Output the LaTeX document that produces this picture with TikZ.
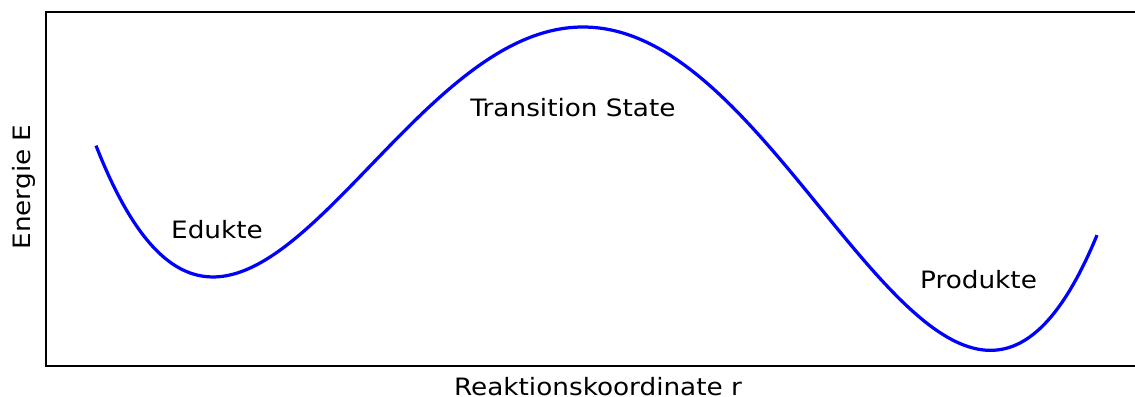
\documentclass[tikz,border=0pt]{standalone}
\usepackage{fontspec}
\setmainfont{DejaVu Sans}[FakeStretch=1.1]
\usetikzlibrary{positioning}
\tikzset{
  rkaxis/.style={draw=black, line width=1.4pt},
  rkcurve/.style={draw=blue, line width=2.3pt},
  rklabel/.style={font=\fontsize{17}{20}\selectfont, inner sep=0pt, anchor=base}
}

\begin{document}
\begin{tikzpicture}[x=0.025cm, y=-0.025cm,
  declare function={rku(\t)=(\t-583)/100;
    rkf(\t)=0.25*rku(\t)*rku(\t)*rku(\t)*rku(\t)-0.125*rku(\t)*rku(\t)*rku(\t)-7.53875*rku(\t)*rku(\t);}]
  \useasboundingbox (0,0) rectangle (1135,396);
  \clip (0,0) rectangle (1135,396);
  % frame of the plot
  \draw[rkaxis] (46,12) rectangle (1148,366);
  % energy profile
  \draw[rkcurve] plot[domain=96:1097, samples=250, smooth] (\x, {27-4.997*rkf(\x)});
  % labels
  \node[rklabel] (edukte) at (217,238.5) {Edukte};
  \node[rklabel] (ts) at (573,116.7) {Transition State};
  \node[rklabel] (produkte) at (978.5,288.5) {Produkte};
  \node[rklabel] (xlabel) at (598,395) {Reaktionskoordinate r};
  \node[rklabel, rotate=90] (ylabel) at (30,187) {Energie E};
\end{tikzpicture}
\end{document}
